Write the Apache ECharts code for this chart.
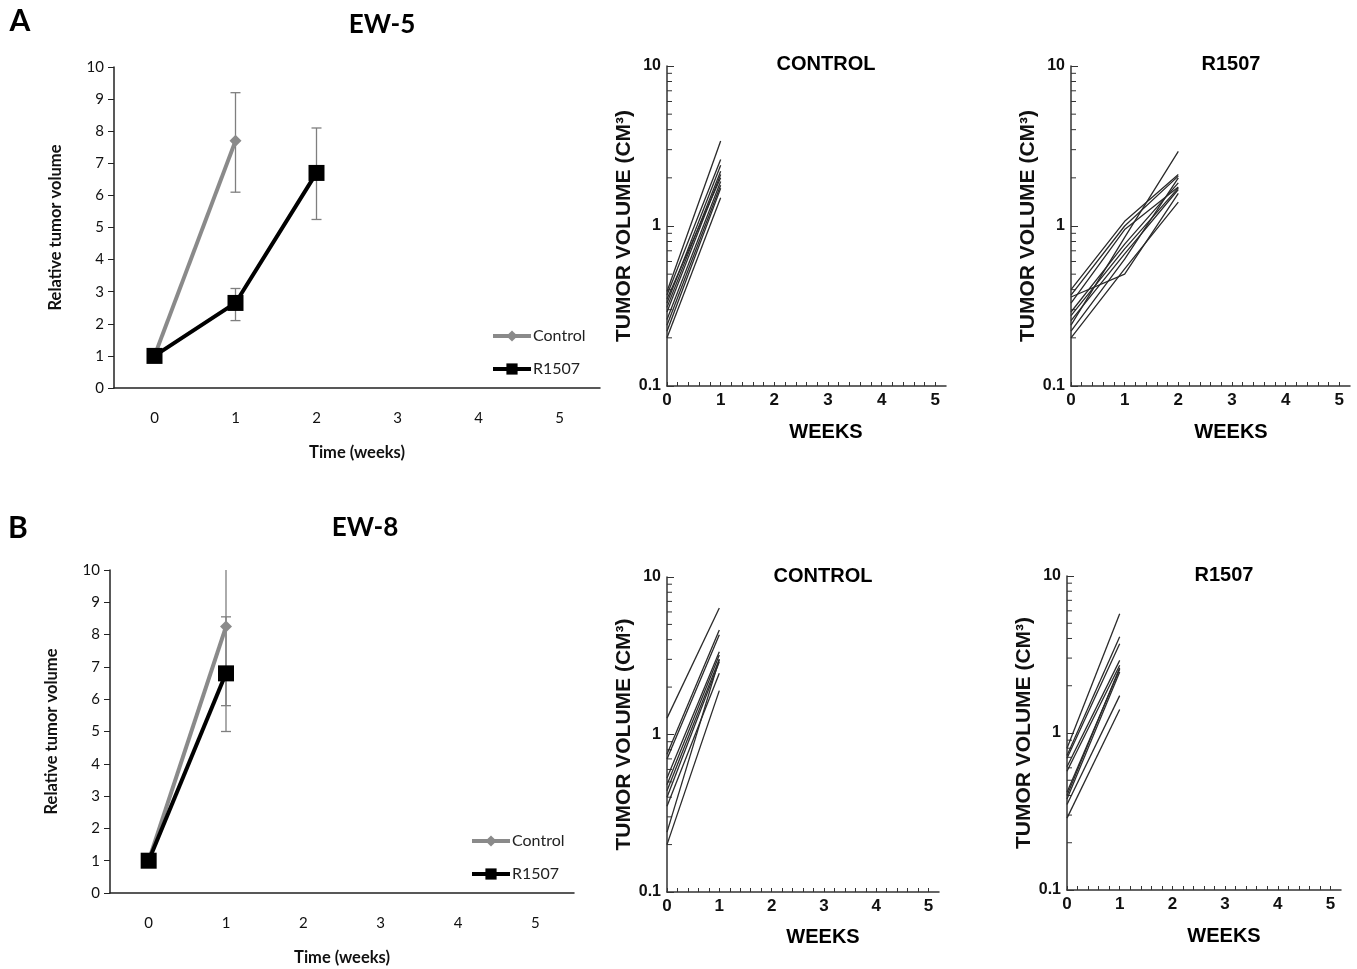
<!DOCTYPE html>
<html><head><meta charset="utf-8">
<script src="https://cdn.jsdelivr.net/npm/echarts@6/dist/echarts.min.js"></script>
<style>html,body{margin:0;padding:0;background:#fff}#c{width:1357px;height:969px}</style>
</head><body><div id="c"></div>
<script>
// ---------- data ----------
const weekCats = ['0', '1', '2', '3', '4', '5'];

// EW-5 relative tumor volume (mean, error bar low/high)
const ew5Control = [1, 7.7];
const ew5ControlLow = [null, 6.1];
const ew5ControlHigh = [null, 9.2];
const ew5R1507 = [1, 2.65, 6.7];
const ew5R1507Low = [null, 2.1, 5.25];
const ew5R1507High = [null, 3.1, 8.1];

// EW-8 relative tumor volume
const ew8Control = [1, 8.25];
const ew8ControlLow = [null, 5.8];
const ew8ControlHigh = [null, 10.7];
const ew8R1507 = [1, 6.8];
const ew8R1507Low = [null, 5.0];
const ew8R1507High = [null, 8.55];

// Individual mice tumor volumes (cm3) at weeks 0,1,(2)
const ew5ControlMice = [
  [0.39, 3.4], [0.37, 2.6], [0.33, 2.4], [0.31, 2.2], [0.29, 2.1],
  [0.26, 1.9], [0.35, 2.0], [0.24, 1.8], [0.22, 1.72], [0.20, 1.5]
];
const ew5R1507Mice = [
  [0.40, 1.07, 2.1], [0.37, 1.0, 2.05], [0.24, 0.85, 2.93], [0.29, 0.77, 1.86],
  [0.275, 0.72, 1.73], [0.256, 0.67, 1.69], [0.36, 0.50, 1.6], [0.20, 0.54, 1.41],
  [0.33, 0.95, 1.75], [0.22, 0.62, 2.0]
];
const ew8ControlMice = [
  [1.27, 6.35], [0.75, 4.6], [0.70, 4.3], [0.53, 3.35], [0.48, 3.2],
  [0.44, 3.0], [0.40, 2.9], [0.35, 2.45], [0.24, 3.0], [0.20, 1.9]
];
const ew8R1507Mice = [
  [0.80, 5.75], [0.72, 4.1], [0.69, 3.7], [0.61, 2.9], [0.57, 2.7],
  [0.42, 2.55], [0.38, 2.45], [0.40, 2.6], [0.35, 1.73], [0.287, 1.41]
];

const logMinorTicks = [0.2, 0.3, 0.4, 0.5, 0.6, 0.7, 0.8, 0.9, 2, 3, 4, 5, 6, 7, 8, 9];

// ---------- helpers ----------
const calibri = 'Lato, "Open Sans", sans-serif';
const arial = '"Liberation Sans", Arial, sans-serif';
const GRAY = '#8a8a8a';

function errData(low, high) {
  const out = [];
  low.forEach((l, i) => { if (l != null) out.push([i, l, high[i]]); });
  return out;
}
function errRender(params, api) {
  const x = api.value(0);
  const pLo = api.coord([x, api.value(1)]);
  const pHi = api.coord([x, api.value(2)]);
  const w = 5;
  const st = { stroke: '#7f7f7f', lineWidth: 1.3 };
  return { type: 'group', children: [
    { type: 'line', shape: { x1: pLo[0], y1: pLo[1], x2: pHi[0], y2: pHi[1] }, style: st },
    { type: 'line', shape: { x1: pLo[0] - w, y1: pLo[1], x2: pLo[0] + w, y2: pLo[1] }, style: st },
    { type: 'line', shape: { x1: pHi[0] - w, y1: pHi[1], x2: pHi[0] + w, y2: pHi[1] }, style: st }
  ]};
}
function minorRender(params, api) {
  const p = api.coord([api.value(0), api.value(1)]);
  return { type: 'line', shape: { x1: p[0], y1: p[1], x2: p[0] + 5, y2: p[1] },
    style: { stroke: '#333', lineWidth: 1 } };
}

function relX(gi) {
  return { type: 'category', gridIndex: gi, data: weekCats, boundaryGap: true,
    name: 'Time (weeks)', nameLocation: 'middle', nameGap: 56,
    nameTextStyle: { fontFamily: calibri, fontWeight: 'bold', fontSize: 16.5, color: '#111' },
    axisLine: { onZero: false, lineStyle: { color: '#222', width: 1.5 } },
    axisTick: { show: false },
    axisLabel: { margin: 23, fontFamily: calibri, fontSize: 15, color: '#111' } };
}
function relY(gi) {
  return { type: 'value', gridIndex: gi, min: 0, max: 10, interval: 1,
    name: 'Relative tumor volume', nameLocation: 'middle', nameGap: 50,
    nameTextStyle: { fontFamily: calibri, fontWeight: 'bold', fontSize: 16.5, color: '#111' },
    axisLine: { show: true, lineStyle: { color: '#222', width: 1.5 } },
    axisTick: { show: true, length: 6, lineStyle: { color: '#222' } },
    splitLine: { show: false },
    axisLabel: { margin: 10, fontFamily: calibri, fontSize: 15, color: '#111' } };
}
function logX(gi) {
  return { type: 'value', gridIndex: gi, min: 0, max: 5.2, interval: 0.2,
    axisLine: { onZero: false, lineStyle: { color: '#333', width: 1.5 } },
    axisTick: { show: true, inside: true, length: 4, lineStyle: { color: '#333' } },
    splitLine: { show: false },
    axisLabel: { margin: 6, fontFamily: arial, fontWeight: 'bold', fontSize: 17, color: '#111',
      showMaxLabel: false,
      formatter: v => Math.abs(v - Math.round(v)) < 1e-6 ? String(Math.round(v)) : '' } };
}
function logY(gi) {
  return { type: 'log', logBase: 10, gridIndex: gi, min: 0.1, max: 10,
    name: 'TUMOR VOLUME (CM³)', nameLocation: 'middle', nameGap: 28,
    nameTextStyle: { fontFamily: arial, fontWeight: 'bold', fontSize: 21, color: '#111' },
    axisLine: { show: true, lineStyle: { color: '#333', width: 1.5 } },
    axisTick: { show: true, inside: true, length: 7, lineStyle: { color: '#333' } },
    splitLine: { show: false },
    axisLabel: { margin: 6, fontFamily: arial, fontWeight: 'bold', fontSize: 16, color: '#111',
      formatter: v => v < 0.5 ? '0.1' : String(Math.round(v)) } };
}

const series = [];
function addRel(gi, ctrl, cLo, cHi, r, rLo, rHi) {
  series.push({ type: 'custom', xAxisIndex: gi, yAxisIndex: gi, clip: true, silent: true, z: 1,
    renderItem: errRender, encode: { x: 0, y: [1, 2] }, data: errData(cLo, cHi) });
  series.push({ type: 'custom', xAxisIndex: gi, yAxisIndex: gi, clip: true, silent: true, z: 1,
    renderItem: errRender, encode: { x: 0, y: [1, 2] }, data: errData(rLo, rHi) });
  series.push({ name: 'Control', type: 'line', xAxisIndex: gi, yAxisIndex: gi, data: ctrl, z: 3,
    symbol: 'diamond', symbolSize: 12, color: GRAY,
    lineStyle: { color: GRAY, width: 4 }, itemStyle: { color: GRAY } });
  series.push({ name: 'R1507', type: 'line', xAxisIndex: gi, yAxisIndex: gi, data: r, z: 4,
    symbol: 'rect', symbolSize: 16, color: '#000',
    lineStyle: { color: '#000', width: 4 }, itemStyle: { color: '#000' } });
}
function addMice(gi, mice, label) {
  mice.forEach((m, k) => {
    series.push({ name: label + ' mouse ' + (k + 1), type: 'line', xAxisIndex: gi, yAxisIndex: gi,
      data: m.map((v, w) => [w, v]), symbol: 'none', silent: true,
      lineStyle: { color: '#2a2a2a', width: 1.3 } });
  });
  series.push({ type: 'custom', xAxisIndex: gi, yAxisIndex: gi, silent: true,
    renderItem: minorRender, encode: { x: 0, y: 1 }, data: logMinorTicks.map(v => [0, v]) });
}

addRel(0, ew5Control, ew5ControlLow, ew5ControlHigh, ew5R1507, ew5R1507Low, ew5R1507High);
addMice(1, ew5ControlMice, 'EW-5 control');
addMice(2, ew5R1507Mice, 'EW-5 R1507');
addRel(3, ew8Control, ew8ControlLow, ew8ControlHigh, ew8R1507, ew8R1507Low, ew8R1507High);
addMice(4, ew8ControlMice, 'EW-8 control');
addMice(5, ew8R1507Mice, 'EW-8 R1507');

function legendAt(left, top) {
  return { data: ['Control', 'R1507'], orient: 'vertical', left: left, top: top,
    itemWidth: 38, itemHeight: 14, itemGap: 17, selectedMode: false, padding: 0,
    lineStyle: { width: 4 },
    textStyle: { fontFamily: calibri, fontSize: 16, lineHeight: 16, color: '#222', padding: [0, 0, 0, -3] } };
}

function txt(x, y, text, font) {
  return { type: 'text', x: x, y: y, silent: true,
    style: { text: text, textAlign: 'center', textVerticalAlign: 'middle', font: font, fill: '#000' } };
}

const option = {
  animation: false,
  backgroundColor: '#fff',
  grid: [
    { left: 114, top: 67, width: 486, height: 321 },
    { left: 667, top: 66, width: 279, height: 320 },
    { left: 1071, top: 66, width: 279, height: 320 },
    { left: 110, top: 570, width: 464, height: 323 },
    { left: 667, top: 577, width: 272, height: 315 },
    { left: 1067, top: 576, width: 274, height: 314 }
  ],
  xAxis: [relX(0), logX(1), logX(2), relX(3), logX(4), logX(5)],
  yAxis: [relY(0), logY(1), logY(2), relY(3), logY(4), logY(5)],
  legend: [legendAt(491, 328), legendAt(470, 833)],
  series: series,
  graphic: [
    txt(20, 21, 'A', 'bold 30px ' + calibri),
    txt(382, 25, 'EW-5', 'bold 26px ' + calibri),
    txt(826, 64, 'CONTROL', 'bold 20px ' + arial),
    txt(1231, 64, 'R1507', 'bold 20px ' + arial),
    txt(826, 432, 'WEEKS', 'bold 20px ' + arial),
    txt(1231, 432, 'WEEKS', 'bold 20px ' + arial),
    txt(18, 528, 'B', 'bold 30px ' + calibri),
    txt(365, 528, 'EW-8', 'bold 26px ' + calibri),
    txt(823, 576, 'CONTROL', 'bold 20px ' + arial),
    txt(1224, 575, 'R1507', 'bold 20px ' + arial),
    txt(823, 937, 'WEEKS', 'bold 20px ' + arial),
    txt(1224, 936, 'WEEKS', 'bold 20px ' + arial)
  ]
};

const chart = echarts.init(document.getElementById('c'), null, { renderer: 'canvas', width: 1357, height: 969 });
chart.setOption(option);
</script>
</body></html>
